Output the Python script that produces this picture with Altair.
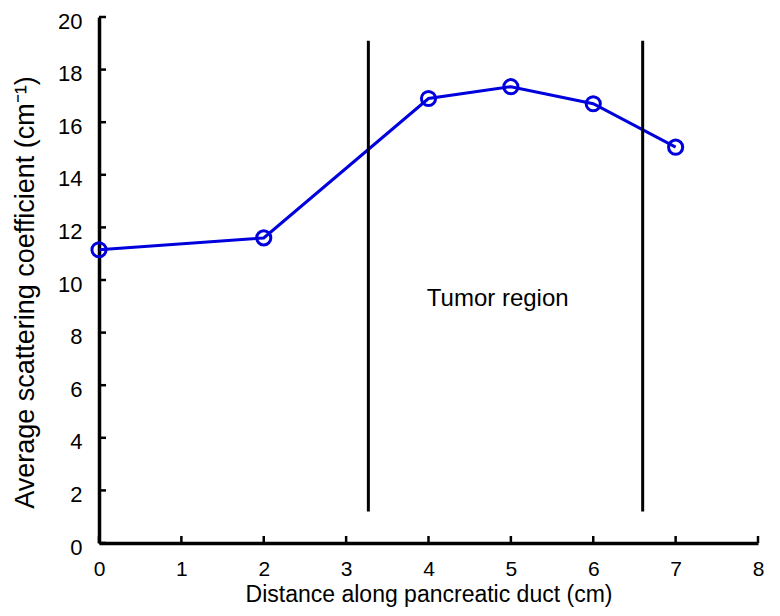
import altair as alt
import pandas as pd

# Data
distance = [0, 2, 4, 5, 6, 7]
scattering = [11.15, 11.6, 16.9, 17.35, 16.7, 15.05]

boundary_x = [3.27, 6.6]
boundary_y0 = [1.2, 1.2]
boundary_y1 = [19.1, 19.1]

label_text = ["Tumor region"]
label_x = [4.84]
label_y = [9.0]

x_ticks = [0, 1, 2, 3, 4, 5, 6, 7, 8]
y_ticks = [0, 2, 4, 6, 8, 10, 12, 14, 16, 18, 20]

W, H = 659, 526
FONT = "Liberation Sans"
BLUE = "#0000dd"

df = pd.DataFrame({"x": distance, "y": scattering})
bounds = pd.DataFrame({"x": boundary_x, "y": boundary_y0, "y2": boundary_y1})
lab = pd.DataFrame({"t": label_text, "x": label_x, "y": label_y})
xt = pd.DataFrame({"x": x_ticks})
yt = pd.DataFrame({"y": y_ticks})

xscale = alt.Scale(domain=[0, 8], nice=False, zero=False)
yscale = alt.Scale(domain=[0, 20], nice=False, zero=False)

xaxis = alt.Axis(
    title="Distance along pancreatic duct (cm)",
    values=x_ticks, format="d", ticks=False, grid=False,
    labelPadding=32, labelBaseline="alphabetic", labelFontSize=21,
    titleY=58, titleBaseline="alphabetic", titleFontSize=23,
)
yaxis = alt.Axis(
    title="Average scattering coefficient (cm⁻¹)",
    values=y_ticks, format="d", ticks=False, grid=False,
    labelPadding=17, labelOffset=4, labelFontSize=22,
    titleX=-66, titleY=275, titleBaseline="alphabetic", titleAngle=-90,
    titleFontSize=27,
)

line = alt.Chart(df).mark_line(color=BLUE, strokeWidth=3).encode(
    x=alt.X("x:Q", scale=xscale, axis=xaxis),
    y=alt.Y("y:Q", scale=yscale, axis=yaxis),
)
pts = alt.Chart(df).mark_point(
    shape="circle", filled=False, size=200, strokeWidth=3, color=BLUE, opacity=1
).encode(x=alt.X("x:Q", scale=xscale), y=alt.Y("y:Q", scale=yscale))

vlines = alt.Chart(bounds).mark_rule(color="black", strokeWidth=3).encode(
    x=alt.X("x:Q", scale=xscale), y=alt.Y("y:Q", scale=yscale), y2="y2:Q"
)

txt = alt.Chart(lab).mark_text(
    font=FONT, fontSize=24, color="black", baseline="alphabetic"
).encode(
    x=alt.X("x:Q", scale=xscale), y=alt.Y("y:Q", scale=yscale), text="t:N"
)

xtick = alt.Chart(xt).mark_rule(color="black", strokeWidth=2.5).encode(
    x=alt.X("x:Q", scale=xscale), y=alt.value(H), y2=alt.value(H - 7)
)
ytick = alt.Chart(yt).mark_rule(color="black", strokeWidth=2.5).encode(
    y=alt.Y("y:Q", scale=yscale), x=alt.value(0), x2=alt.value(7)
)

chart = alt.layer(line, vlines, txt, xtick, ytick, pts).properties(
    width=W, height=H,
    background="white",
    autosize=alt.AutoSizeParams(type="none"),
    padding={"left": 91, "top": 9, "right": 14, "bottom": 65},
).configure_view(stroke=None).configure_axis(
    domainColor="black", domainWidth=3.5,
    labelFont=FONT, labelColor="black",
    titleFont=FONT, titleColor="black", titleFontWeight="normal",
    labelFlush=False, labelOverlap=False,
)

chart.save("out.html", embed_options={"renderer": "svg", "actions": False})
